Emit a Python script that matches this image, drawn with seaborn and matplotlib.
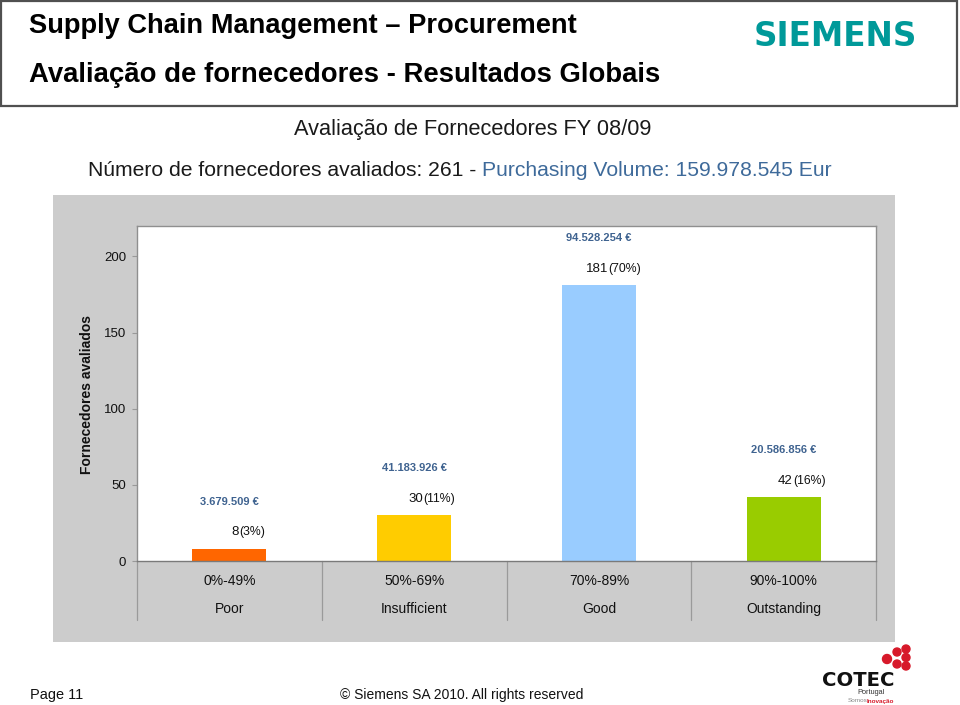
import matplotlib
matplotlib.use("Agg")
import matplotlib.pyplot as plt
from matplotlib.patches import Rectangle, Circle
import seaborn as sns
import pandas as pd

# ---------------- data ----------------
score_ranges = ["0%-49%", "50%-69%", "70%-89%", "90%-100%"]
ratings = ["Poor", "Insufficient", "Good", "Outstanding"]
supplier_counts = [8, 30, 181, 42]
supplier_shares = ["3%", "11%", "70%", "16%"]
purchase_volumes = ["3.679.509", "41.183.926", "94.528.254", "20.586.856"]
bar_colors = ["#FF6600", "#FFCC00", "#99CCFF", "#99CC00"]
y_ticks = [0, 50, 100, 150, 200]

header_line1 = "Supply Chain Management \u2013 Procurement"
header_line2 = "Avalia\u00e7\u00e3o de fornecedores - Resultados Globais"
chart_title = "Avalia\u00e7\u00e3o de Fornecedores FY 08/09"
subtitle_black = "N\u00famero de fornecedores avaliados: 261 - "
subtitle_blue = "Purchasing Volume: 159.978.545 Eur"
y_label = "Fornecedores avaliados"

df = pd.DataFrame({"rating": ratings, "count": supplier_counts})

# ---------------- style ----------------
sns.set_style("white")
FONT = ["Liberation Sans", "DejaVu Sans"]
plt.rcParams["font.family"] = FONT

W, H = 960, 705
fig = plt.figure(figsize=(W / 100, H / 100), dpi=100)
fig.patch.set_facecolor("white")
renderer = fig.canvas.get_renderer()


def fx(px):
    return px / W


def fy(py):
    return 1 - py / H


def fit_text(x0, x1, yc, parts, weight="normal", family=None):
    """parts: list of (string, color); fit total width to x1-x0 pixels."""
    base = 10.0
    kw = {} if family is None else {"family": family}
    txts = [fig.text(0, fy(yc), s, color=c, fontsize=base, fontweight=weight,
                     va="center", ha="left", **kw) for s, c in parts]
    total = sum(t.get_window_extent(renderer).width for t in txts)
    size = base * (x1 - x0) / total
    x = x0
    for t in txts:
        t.set_fontsize(size)
        t.set_x(fx(x))
        x += t.get_window_extent(renderer).width
    return txts


# ---------------- header box ----------------
fig.patches.append(Rectangle((fx(1), fy(106)), fx(956), 105 / H, transform=fig.transFigure,
                             facecolor="white", edgecolor="#505050", linewidth=1.6, zorder=-2))
fit_text(29, 577, 26, [(header_line1, "black")], weight="bold")
fit_text(29, 658, 75, [(header_line2, "black")], weight="bold")
fit_text(754, 917, 37, [("SIEMENS", "#009999")], weight="bold", family=["DejaVu Sans"])

# ---------------- titles ----------------
fit_text(294, 654, 130, [(chart_title, "#1a1a1a")])
fit_text(88, 833, 170, [(subtitle_black, "#1a1a1a"), (subtitle_blue, "#3E6A9A")])

# ---------------- grey chart background ----------------
fig.patches.append(Rectangle((fx(53), fy(642)), fx(895 - 53), (642 - 195) / H,
                             transform=fig.transFigure, facecolor="#CCCCCC",
                             edgecolor="none", zorder=-2))

# ---------------- axes ----------------
ax = fig.add_axes([fx(137), fy(561), fx(876 - 137), (561 - 226) / H])
ax.set_facecolor("white")
sns.barplot(data=df, x="rating", y="count", hue="rating", palette=bar_colors,
            width=0.4, saturation=1, legend=False, edgecolor="none", ax=ax)
ax.set_ylim(0, 220)
ax.set_xlim(-0.5, 3.5)
ax.set_yticks(y_ticks)
ax.set_yticklabels([str(v) for v in y_ticks], fontsize=9.5, color="#111111")
ax.tick_params(axis="y", length=3.6, width=0.8, color="#999999", pad=4.3, left=True)
ax.tick_params(axis="x", length=0, labelbottom=False)
ax.set_xlabel("")
ax.set_ylabel("")
for side, sp in ax.spines.items():
    sp.set_visible(True)
    sp.set_color("#8F8F8F")
    sp.set_linewidth(1.0)
ax.spines["bottom"].set_color("#7A7A7A")

fig.text(fx(87), fy(394), y_label, rotation=90, ha="center", va="center",
         fontsize=10, fontweight="bold", color="#111111")

# table under the axis
xt = ax.get_xaxis_transform()
table_bottom = -(620 - 561) / (561 - 226)
for xb in [-0.5, 0.5, 1.5, 2.5, 3.5]:
    ax.plot([xb, xb], [0, table_bottom], transform=xt, color="#9A9A9A",
            linewidth=0.9, clip_on=False)
row1 = -(581 - 561) / (561 - 226)
row2 = -(609 - 561) / (561 - 226)
for i, (rg, rt) in enumerate(zip(score_ranges, ratings)):
    ax.text(i, row1, rg, transform=xt, ha="center", va="center", fontsize=10, color="#111111")
    ax.text(i, row2, rt, transform=xt, ha="center", va="center", fontsize=10, color="#111111")

# bar labels
for i, (cnt, share, vol) in enumerate(zip(supplier_counts, supplier_shares, purchase_volumes)):
    ax.annotate(str(cnt), xy=(i, cnt), xytext=(9 * 0.72, 16.5 * 0.72),
                textcoords="offset points", ha="right", va="center",
                fontsize=9.5, color="#111111")
    ax.annotate(f"({share})", xy=(i, cnt), xytext=(9.5 * 0.72, 16.5 * 0.72),
                textcoords="offset points", ha="left", va="center",
                fontsize=8.8, color="#111111")
    ax.annotate(f"{vol} \u20ac", xy=(i, cnt), xytext=(0, 47 * 0.72),
                textcoords="offset points", ha="center", va="center",
                fontsize=8, fontweight="bold", color="#3F6390")

# ---------------- footer ----------------
fit_text(30, 83, 695, [("Page 11", "#111111")])
fit_text(340, 583, 695, [("\u00a9 Siemens SA 2010. All rights reserved", "#111111")])

# COTEC logo
fit_text(822, 895, 680, [("COTEC", "#111111")], weight="bold", family=["DejaVu Sans"])
fig.text(fx(857), fy(693), "Portugal", fontsize=5.3, color="#333333", va="center", ha="left")
fig.text(fx(848), fy(701), "Somos", fontsize=4.6, color="#888888", va="center", ha="left")
fig.text(fx(867), fy(701), "Inova\u00e7\u00e3o", fontsize=4.6, color="#D7192A",
         fontweight="bold", va="center", ha="left")
for cx, cy, r in [(887, 659, 4.5), (897, 652, 4), (897, 664, 4),
                  (906, 649, 4), (906, 657.5, 4), (906, 666, 4)]:
    fig.add_artist(Circle((cx / 100, (H - cy) / 100), r / 100,
                          transform=fig.dpi_scale_trans, color="#D7192A"))

fig.savefig("out.png", dpi=100)
